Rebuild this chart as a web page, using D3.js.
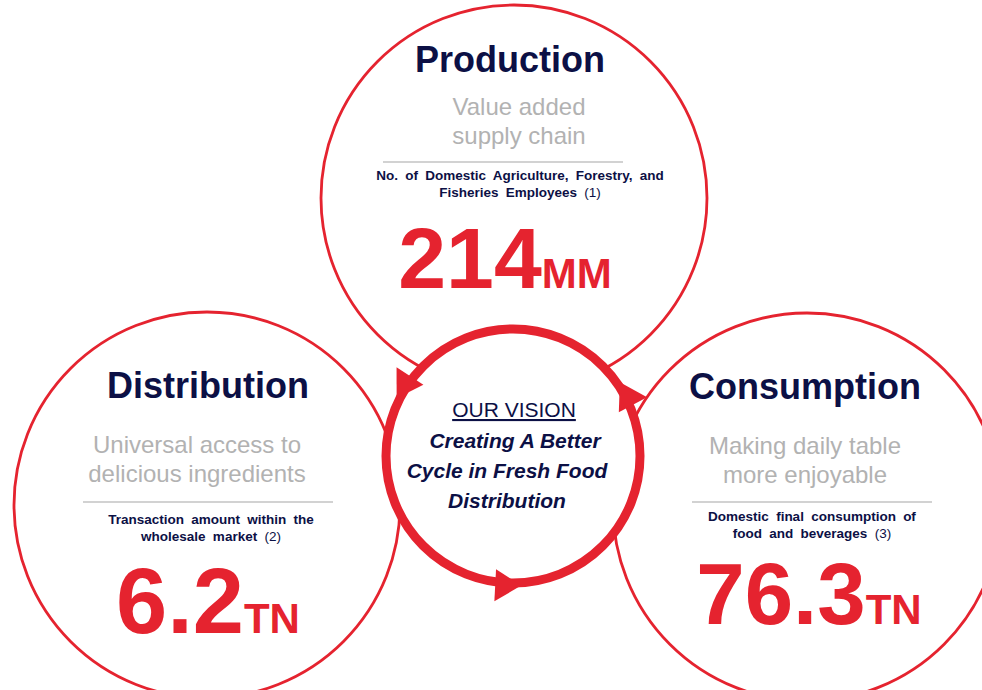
<!DOCTYPE html>
<html>
<head>
<meta charset="utf-8">
<script src="https://cdn.jsdelivr.net/npm/d3@7"></script>
<style>
  html, body { margin: 0; padding: 0; background: #fff; }
</style>
</head>
<body>
<div id="wrapper"></div>
<script>
// 1. Data
const stages = ["Production", "Distribution", "Consumption"]
const taglines = [
  ["Value added", "supply chain"],
  ["Universal access to", "delicious ingredients"],
  ["Making daily table", "more enjoyable"],
]
const metricLabels = [
  ["No. of Domestic Agriculture, Forestry, and", "Fisheries Employees"],
  ["Transaction amount within the", "wholesale market"],
  ["Domestic final consumption of", "food and beverages"],
]
const notes = ["(1)", "(2)", "(3)"]
const values = ["214", "6.2", "76.3"]
const units = ["MM", "TN", "TN"]
const visionTitle = "OUR VISION"
const visionLines = ["Creating A Better", "Cycle in Fresh Food", "Distribution"]

// 2. Dimensions / layout
const width = 982
const height = 690
const red = "#e5232f"
const navy = "#0c1045"
const grey = "#b2b2b2"
const font = "'Liberation Sans', Arial, Helvetica, sans-serif"

const circles = [
  { cx: 514, cy: 198, r: 193 },
  { cx: 207, cy: 505, r: 193 },
  { cx: 807, cy: 507, r: 194 },
]
const panels = [
  { titleX: 510, titleY: 72, tagX: 519, tagY: 115, ruleX: [383, 623], ruleY: 162,
    labelX: 520, labelY: 180, bigX: 505, bigY: 288, bigSize: 86 },
  { titleX: 208, titleY: 398, tagX: 197, tagY: 453, ruleX: [83, 333], ruleY: 502,
    labelX: 211, labelY: 524, bigX: 208, bigY: 633, bigSize: 92 },
  { titleX: 805, titleY: 399, tagX: 805, tagY: 454, ruleX: [692, 932], ruleY: 502,
    labelX: 812, labelY: 521, bigX: 809, bigY: 624, bigSize: 87 },
]
const hub = { cx: 513, cy: 456, r: 127 }
const arrowAngles = [147, 267, 28] // degrees, counter-clockwise from 3 o'clock

// 3. Canvas
const svg = d3
  .select("#wrapper")
  .append("svg")
  .attr("width", width)
  .attr("height", height)
  .style("font-family", font)
  .style("display", "block")

// outer stage circles
svg
  .selectAll("circle.stage")
  .data(circles)
  .join("circle")
  .attr("class", "stage")
  .attr("cx", (d) => d.cx)
  .attr("cy", (d) => d.cy)
  .attr("r", (d) => d.r)
  .attr("fill", "none")
  .attr("stroke", red)
  .attr("stroke-width", 2.8)

// stage contents
const groups = svg
  .selectAll("g.panel")
  .data(stages.map((s, i) => ({ stage: s, i, p: panels[i] })))
  .join("g")
  .attr("class", "panel")

groups
  .append("text")
  .attr("x", (d) => d.p.titleX)
  .attr("y", (d) => d.p.titleY)
  .attr("text-anchor", "middle")
  .attr("fill", navy)
  .style("font-weight", "bold")
  .style("font-size", "36px")
  .text((d) => d.stage)

groups.each(function (d) {
  const g = d3.select(this)
  const p = d.p

  const tag = g
    .append("text")
    .attr("text-anchor", "middle")
    .attr("fill", grey)
    .style("font-size", "24px")
  taglines[d.i].forEach((line, j) => {
    tag.append("tspan").attr("x", p.tagX).attr("y", p.tagY + j * 29).text(line)
  })

  g.append("line")
    .attr("x1", p.ruleX[0])
    .attr("x2", p.ruleX[1])
    .attr("y1", p.ruleY)
    .attr("y2", p.ruleY)
    .attr("stroke", "#a6a6a6")
    .attr("stroke-width", 1.2)

  const label = g
    .append("text")
    .attr("text-anchor", "middle")
    .attr("fill", navy)
    .style("font-size", "13.5px")
    .style("font-weight", "bold")
    .style("word-spacing", "3.5px")
  label.append("tspan").attr("x", p.labelX).attr("y", p.labelY).text(metricLabels[d.i][0])
  const second = label.append("tspan").attr("x", p.labelX).attr("y", p.labelY + 16.5)
  second.append("tspan").text(metricLabels[d.i][1] + " ")
  second.append("tspan").style("font-weight", "normal").text(notes[d.i])

  const big = g
    .append("text")
    .attr("x", p.bigX)
    .attr("y", p.bigY)
    .attr("text-anchor", "middle")
    .attr("fill", red)
    .style("font-weight", "bold")
  big.append("tspan").style("font-size", p.bigSize + "px").text(values[d.i])
  big.append("tspan").style("font-size", "42px").text(units[d.i])
})

// central vision circle
svg
  .append("circle")
  .attr("cx", hub.cx)
  .attr("cy", hub.cy)
  .attr("r", hub.r)
  .attr("fill", "#fff")
  .attr("stroke", red)
  .attr("stroke-width", 9)

// arrowheads pointing counter-clockwise along the ring
const angleScale = d3.scaleLinear().domain([0, 360]).range([0, 2 * Math.PI])
svg
  .selectAll("path.arrow")
  .data(arrowAngles)
  .join("path")
  .attr("class", "arrow")
  .attr("d", "M -11 -13 L 15 2 L -11 19 Z")
  .attr("fill", red)
  .attr("transform", (a) => {
    const t = angleScale(a)
    const x = hub.cx + hub.r * Math.cos(t)
    const y = hub.cy - hub.r * Math.sin(t)
    const rot = -a - 90
    return `translate(${x},${y}) rotate(${rot})`
  })

// vision text
svg
  .append("text")
  .attr("x", 514)
  .attr("y", 417)
  .attr("text-anchor", "middle")
  .attr("fill", navy)
  .style("font-size", "21px")
  .style("text-decoration", "underline")
  .text(visionTitle)

svg
  .selectAll("text.vision")
  .data(visionLines)
  .join("text")
  .attr("class", "vision")
  .attr("x", (d, i) => [515, 507, 507][i])
  .attr("y", (d, i) => 448 + i * 30)
  .attr("text-anchor", "middle")
  .attr("fill", navy)
  .style("font-size", "21px")
  .style("font-weight", "bold")
  .style("font-style", "italic")
  .text((d) => d)
</script>
</body>
</html>
